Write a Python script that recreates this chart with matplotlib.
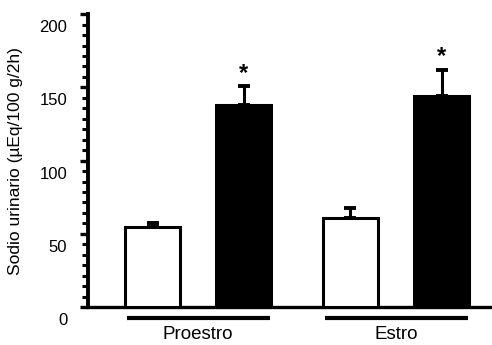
import matplotlib
matplotlib.use("Agg")
import matplotlib.pyplot as plt
import matplotlib.transforms as mtransforms
from matplotlib.ticker import MultipleLocator
import numpy as np

plt.rcParams['font.family'] = ['Liberation Sans', 'DejaVu Sans']

# Data
phases = ["Proestro", "Estro"]
control = [54.5, 60.5]
control_se = [3.0, 7.0]
treated = [138.0, 144.0]
treated_se = [13.0, 18.0]
significant = [True, True]
y_ticks = [0, 50, 100, 150, 200]

fig = plt.figure(figsize=(4.92, 3.45), dpi=100)
ax = fig.add_axes([0.179, 0.110, 0.821, 0.849])

x = np.arange(len(phases))
off = 0.23
width = 0.28

ax.bar(x - off, control, width, color="white", edgecolor="black",
       linewidth=2.2, zorder=3)
ax.bar(x + off, treated, width, color="black", edgecolor="black",
       linewidth=2.2, zorder=3)

# upward-only error bars
ax.errorbar(x - off, control, yerr=[np.zeros(len(x)), control_se], fmt="none",
            ecolor="black", elinewidth=2.2, capsize=4.5, capthick=2.8, zorder=2)
ax.errorbar(x + off, treated, yerr=[np.zeros(len(x)), treated_se], fmt="none",
            ecolor="black", elinewidth=2.2, capsize=4.5, capthick=2.8, zorder=2)

for xi, v, se, sig in zip(x + off, treated, treated_se, significant):
    if sig:
        ax.annotate("*", (xi, v + se), xytext=(0, 1), textcoords="offset points",
                    ha="center", va="bottom", fontsize=17, fontweight="bold")

ax.set_xlim(-0.556, 1.485)
ax.set_ylim(0, 200)

for s in ["top", "right"]:
    ax.spines[s].set_visible(False)
ax.spines["left"].set_linewidth(2.8)
ax.spines["bottom"].set_linewidth(2.4)

ax.set_yticks(y_ticks)
ax.set_yticklabels([str(t) for t in y_ticks])
ax.yaxis.set_minor_locator(MultipleLocator(50 / 7))
ax.tick_params(axis="y", which="major", length=6, width=2.4, labelsize=12, pad=9)
ax.tick_params(axis="y", which="minor", length=4, width=2.2)
shift = mtransforms.ScaledTranslation(0, -0.12, fig.dpi_scale_trans)
for lab in ax.get_yticklabels():
    lab.set_transform(lab.get_transform() + shift)

ax.set_xticks([])

ax.set_ylabel("Sodio urinario (µEq/100 g/2h)", fontsize=12.5, labelpad=12)

# group underlines and names
trans = mtransforms.blended_transform_factory(ax.transData, ax.transAxes)
for xi, name in zip(x, phases):
    ax.plot([xi - 0.36, xi + 0.365], [-0.038, -0.038], color="black", lw=3,
            transform=trans, clip_on=False, solid_capstyle="butt")
    ax.text(xi, -0.095, name, transform=trans, ha="center", va="center",
            fontsize=13.5)

fig.savefig("out.png", dpi=100)
